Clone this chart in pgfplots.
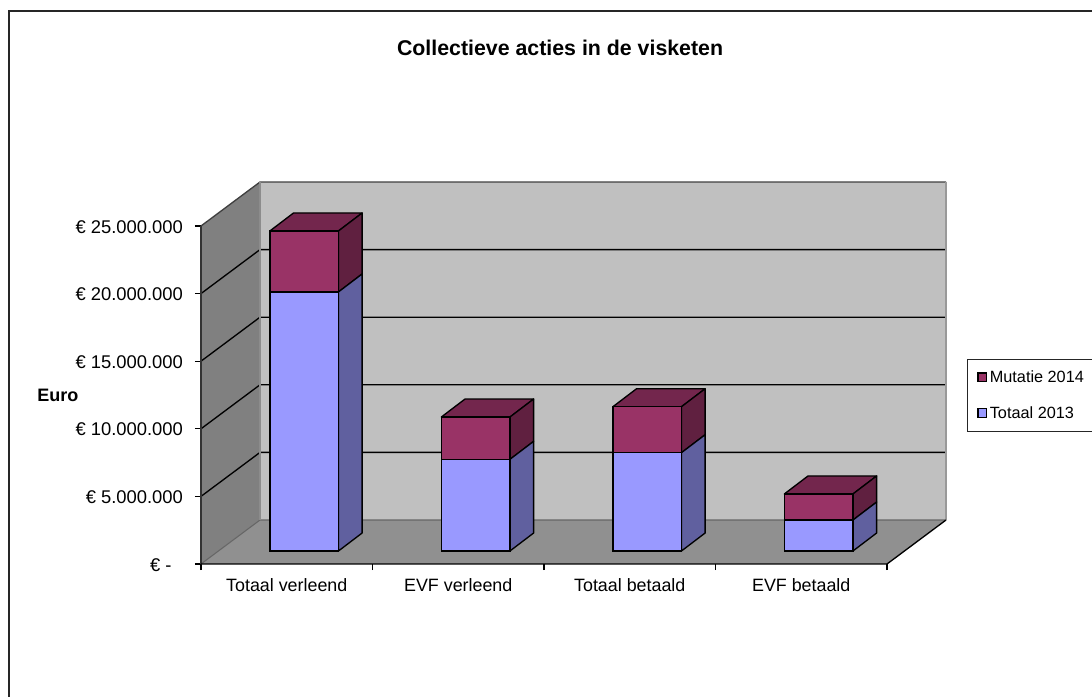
\documentclass[border=0pt]{standalone}
\usepackage{fontspec}
\setmainfont{Liberation Sans}
\usepackage{pgfplots}
\usepackage{pgfplotstable}
\pgfplotsset{compat=1.18}

\definecolor{wallback}{HTML}{C0C0C0}
\definecolor{wallside}{HTML}{808080}
\definecolor{floorc}{HTML}{909090}
\definecolor{blue13}{HTML}{9999FF}
\definecolor{blue13side}{HTML}{60609F}
\definecolor{mut14}{HTML}{993366}
\definecolor{mut14side}{HTML}{602040}
\definecolor{mut14top}{HTML}{73264D}

% million euro
\pgfplotstableread{
x   totaal mutatie
0.5 19.16  4.51
1.5 6.78   3.13
2.5 7.27   3.40
3.5 2.29   1.93
}\euro

% side and top faces of one bar: centre, 2013 value, 2014 top
\newcommand{\barfaces}[3]{%
  \pgfmathsetmacro{\xa}{#1-0.2}
  \pgfmathsetmacro{\xb}{#1+0.2}
  \pgfmathsetmacro{\xc}{#1+0.338}
  \pgfmathsetmacro{\xd}{#1-0.062}
  \pgfmathsetmacro{\ya}{#2+1.331}
  \pgfmathsetmacro{\yb}{#3+1.331}
  \addplot[face,fill=blue13side] coordinates {(\xb,0) (\xc,1.331) (\xc,\ya) (\xb,#2)} --cycle;
  \addplot[face,fill=mut14side] coordinates {(\xb,#2) (\xc,\ya) (\xc,\yb) (\xb,#3)} --cycle;
  \addplot[face,fill=mut14top] coordinates {(\xa,#3) (\xb,#3) (\xc,\yb) (\xd,\yb)} --cycle;
}

\begin{document}
\begin{tikzpicture}
\path[use as bounding box] (0,0) rectangle (819pt,522pt);
\draw[color=black!85,line width=0.8pt] (6.75pt,-2pt) -- (6.75pt,513.75pt) -- (825pt,513.75pt);

\pgfplotsset{
  every axis/.append style={
    at={(150.75pt,99pt)},
    anchor=south west,
    scale only axis,
    width=558.75pt,
    height=286.5pt,
    clip=false,
  },
  wall/.style={sharp plot,forget plot,no marks,draw=none},
  grid line/.style={sharp plot,forget plot,no marks,black,line width=1pt},
  face/.style={sharp plot,forget plot,no marks,stack plots=false,draw=black,line width=1pt,line join=round},
}

% walls, floor, gridlines and the axis ticks
\begin{axis}[
  xmin=0, xmax=4.344,
  ymin=0, ymax=28.254,
  axis lines=left,
  axis line style={draw=none},
  tick align=outside,
  major tick length=4.5pt,
  minor tick length=4.5pt,
  tick style={black,line width=0.8pt},
  xtick={0.5,1.5,2.5,3.5},
  xticklabels={Totaal verleend,EVF verleend,Totaal betaald,EVF betaald},
  x tick style={draw=none},
  minor xtick={0,1,2,3,4},
  minor x tick style={draw=black,line width=0.8pt},
  ytick={0,5,10,15,20,25},
  yticklabels={€ -\rule{8.5pt}{0pt},€ 5.000.000,€ 10.000.000,€ 15.000.000,€ 20.000.000,€ 25.000.000},
  xticklabel style={yshift=-3.2pt,font=\fontsize{13.4}{16}\selectfont},
  yticklabel style={xshift=-5.5pt,yshift=-0.6pt,font=\fontsize{13.8}{16}\selectfont},
  ylabel={Euro},
  ylabel style={at={(axis description cs:-0.192,0.442)},rotate=-90,anchor=center,font=\fontsize{13.5}{16}\selectfont\bfseries},
  title={Collectieve acties in de visketen},
  title style={at={(axis description cs:0.482,1.329)},anchor=center,font=\fontsize{16}{19}\selectfont\bfseries},
]
\addplot[wall,fill=wallback] coordinates {(0.344,3.254) (4.344,3.254) (4.344,28.254) (0.344,28.254)} --cycle;
\addplot[wall,fill=wallside] coordinates {(0,0) (0.344,3.254) (0.344,28.254) (0,25)} --cycle;
\addplot[wall,fill=floorc] coordinates {(0,0) (4,0) (4.344,3.254) (0.344,3.254)} --cycle;

\addplot[grid line] coordinates {(0,5) (0.344,8.254) (4.344,8.254)};
\addplot[grid line] coordinates {(0,10) (0.344,13.254) (4.344,13.254)};
\addplot[grid line] coordinates {(0,15) (0.344,18.254) (4.344,18.254)};
\addplot[grid line] coordinates {(0,20) (0.344,23.254) (4.344,23.254)};
\addplot[grid line,black!75] coordinates {(0,25) (0.344,28.254) (4.344,28.254)};

\addplot[grid line,black!60,line width=0.8pt] coordinates {(0,0) (0.344,3.254) (4.344,3.254)};
\addplot[grid line,black!45,line width=0.8pt] coordinates {(0.344,3.254) (0.344,28.254)};
\addplot[grid line,black!40,line width=1.2pt] coordinates {(4.344,3.254) (4.344,28.254)};
\addplot[grid line,black!80,line width=0.9pt] coordinates {(0,0) (0,25)};
\addplot[grid line,line width=1pt] coordinates {(0,0) (4,0) (4.344,3.254)};
\end{axis}

% bars: base sits 13 px above the front edge of the floor
\begin{axis}[
  hide axis,
  ybar stacked,
  bar width=0.4,
  xmin=-0.1015, xmax=4.2425,
  ymin=-0.9615, ymax=27.2925,
  legend style={
    at={(rel axis cs:1.0286,0.536)},
    anchor=north west,
    draw=black!85,
    line width=0.8pt,
    font=\fontsize{12.2}{15}\selectfont,
    inner xsep=7.2pt,
    inner ysep=6.2pt,
    row sep=12.5pt,
  },
  legend cell align=left,
  reverse legend,
]
\addplot[draw=black,line width=1pt,fill=blue13,
  legend image code/.code={\draw[black,line width=1pt,fill=blue13] (0cm,-3pt) rectangle (6.3pt,3.5pt);}]
  table[x=x,y=totaal] {\euro};
\addlegendentry{Totaal 2013\hspace{16pt}}
\addplot[draw=black,line width=1pt,fill=mut14,
  legend image code/.code={\draw[black,line width=1pt,fill=mut14] (0cm,-3pt) rectangle (6.3pt,3.5pt);}]
  table[x=x,y=mutatie] {\euro};
\addlegendentry{Mutatie 2014\hspace{16pt}}

\barfaces{0.5}{19.16}{23.67}
\barfaces{1.5}{6.78}{9.91}
\barfaces{2.5}{7.27}{10.67}
\barfaces{3.5}{2.29}{4.22}
\end{axis}
\end{tikzpicture}
\end{document}
